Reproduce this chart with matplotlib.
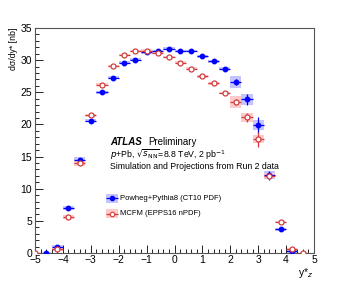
import matplotlib.pyplot as plt
import numpy as np
from matplotlib.ticker import MultipleLocator

plt.rcParams['font.family'] = ['Liberation Sans', 'DejaVu Sans']

# Powheg+Pythia8 (CT10 PDF)
powheg_y = [-4.6, -4.2, -3.8, -3.4, -3.0, -2.6, -2.2, -1.8, -1.4, -1.0, -0.6, -0.2,
            0.2, 0.6, 1.0, 1.4, 1.8, 2.2, 2.6, 3.0, 3.4, 3.8, 4.2]
powheg_val = [0.0, 1.0, 7.0, 14.5, 20.6, 25.0, 27.3, 29.6, 30.1, 31.2, 31.4, 31.8,
              31.4, 31.4, 30.6, 29.8, 28.7, 26.6, 23.9, 19.9, 12.1, 3.7, 0.25]
powheg_stat = [0.05, 0.3, 0.3, 0.3, 0.2, 0.2, 0.2, 0.2, 0.2, 0.2, 0.2, 0.2,
               0.2, 0.2, 0.2, 0.2, 0.3, 0.5, 0.8, 1.3, 0.7, 0.2, 0.1]
powheg_sys = [0.05, 0.3, 0.3, 0.5, 0.2, 0.2, 0.2, 0.2, 0.2, 0.2, 0.2, 0.2,
              0.2, 0.2, 0.2, 0.2, 0.3, 0.9, 0.85, 0.8, 0.6, 0.2, 0.2]

# MCFM (EPPS16 nPDF)
mcfm_y = [-5.0, -4.2, -3.8, -3.4, -3.0, -2.6, -2.2, -1.8, -1.4, -1.0, -0.6, -0.2,
          0.2, 0.6, 1.0, 1.4, 1.8, 2.2, 2.6, 3.0, 3.4, 3.8, 4.2, 4.6]
mcfm_val = [0.0, 0.6, 5.6, 14.0, 21.4, 26.2, 29.1, 30.8, 31.4, 31.5, 31.1, 30.5,
            29.6, 28.7, 27.5, 26.4, 24.9, 23.5, 21.1, 17.7, 12.0, 4.8, 0.6, 0.0]
mcfm_stat = [0.05, 0.2, 0.2, 0.2, 0.2, 0.2, 0.2, 0.2, 0.2, 0.2, 0.2, 0.2,
             0.2, 0.2, 0.2, 0.2, 0.2, 0.4, 0.7, 1.2, 0.5, 0.3, 0.2, 0.05]
mcfm_sys = [0.05, 0.3, 0.3, 0.4, 0.3, 0.2, 0.2, 0.2, 0.2, 0.2, 0.2, 0.2,
            0.2, 0.2, 0.2, 0.2, 0.2, 0.95, 0.7, 0.6, 0.4, 0.2, 0.2, 0.05]

bin_half = 0.2

fig = plt.figure(figsize=(3.49, 2.82), dpi=100)
ax = fig.add_axes([0.1003, 0.1028, 0.7994, 0.7979])

blue = '#0000ff'
red = '#d23c3c'

ax.bar(powheg_y, 2 * np.array(powheg_sys), bottom=np.array(powheg_val) - np.array(powheg_sys),
       width=2 * bin_half, color='#c4c4ff', linewidth=0, zorder=1)
ax.bar(mcfm_y, 2 * np.array(mcfm_sys), bottom=np.array(mcfm_val) - np.array(mcfm_sys),
       width=2 * bin_half, color='#ffcaca', linewidth=0, zorder=1)

ax.errorbar(powheg_y, powheg_val, xerr=bin_half, yerr=powheg_stat, fmt='o', color=blue,
            ms=3.2, elinewidth=0.9, capsize=0, zorder=3)
ax.errorbar(mcfm_y, mcfm_val, xerr=bin_half, yerr=mcfm_stat, fmt='o', color=red,
            mfc='white', mec=red, mew=0.9, ms=3.6, elinewidth=0.9, capsize=0, zorder=4)

ax.set_xlim(-5, 5)
ax.set_ylim(0, 35)
ax.xaxis.set_major_locator(MultipleLocator(1))
ax.xaxis.set_minor_locator(MultipleLocator(0.2))
ax.yaxis.set_major_locator(MultipleLocator(5))
ax.yaxis.set_minor_locator(MultipleLocator(1))
ax.tick_params(which='both', direction='in', top=False, right=False, labelsize=7.5, pad=2)
ax.tick_params(which='major', length=6, width=0.6)
ax.tick_params(which='minor', length=3, width=0.6)
ax.set_xticklabels([])
for t in range(-5, 6):
    ax.text(t, -0.3, '\u2212%d' % -t if t < 0 else '%d' % t, fontsize=7.5, ha='center', va='top',
            transform=ax.transData)
ax.set_yticks(range(0, 36, 5))
for s in ax.spines.values():
    s.set_linewidth(0.8)
    s.set_color('#555555')

ax.text(-0.06, 1.0, 'd\u03c3/dy* [nb]', transform=ax.transAxes, rotation=90,
        ha='right', va='top', fontsize=6.3)
ax.text(0.998, -0.058, 'y*$_{z}$', transform=ax.transAxes, ha='right', va='top', fontsize=7.5)

ax.text(-2.3, 17.2, 'ATLAS', fontsize=7, fontweight='bold', style='italic', va='center')
ax.text(-0.95, 17.2, 'Preliminary', fontsize=7, va='center')
ax.text(-2.3, 15.3, '$p$+Pb, $\\sqrt{s_{\\mathrm{NN}}}$=8.8 TeV, 2 pb$^{-1}$', fontsize=6.3, va='center')
ax.text(-2.3, 13.4, 'Simulation and Projections from Run 2 data', fontsize=6.3, va='center')

# legend
ax.bar([-2.24], [1.4], bottom=[7.85], width=0.45, color='#c4c4ff', linewidth=0)
ax.errorbar([-2.24], [8.55], xerr=0.22, fmt='o', color=blue, ms=3.0, elinewidth=0.9)
ax.text(-1.95, 8.55, 'Powheg+Pythia8 (CT10 PDF)', fontsize=5.5, va='center')
ax.bar([-2.24], [1.4], bottom=[5.37], width=0.45, color='#ffcaca', linewidth=0)
ax.errorbar([-2.24], [6.07], xerr=0.22, fmt='o', color=red, mfc='white', mec=red, mew=0.8,
            ms=3.2, elinewidth=0.9)
ax.text(-1.95, 6.07, 'MCFM (EPPS16 nPDF)', fontsize=5.5, va='center')

fig.savefig('out.png', dpi=100)
